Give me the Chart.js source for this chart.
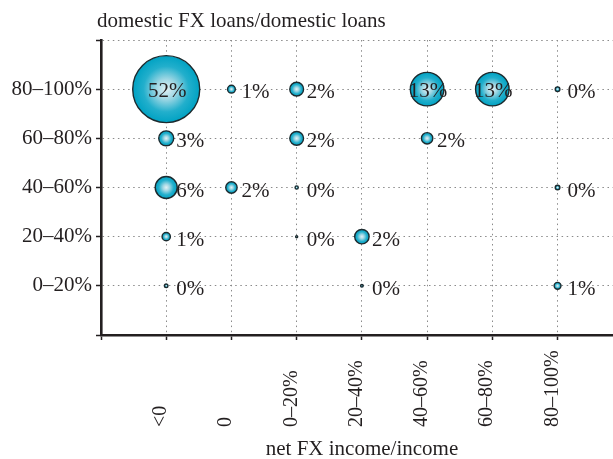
<!DOCTYPE html>
<html>
<head>
<meta charset="utf-8">
<script src="https://cdn.jsdelivr.net/npm/chart.js@4.4.1/dist/chart.umd.min.js"></script>
<style>
  body { margin: 0; background: #fff; }
  #wrap { width: 613px; height: 459px; }
</style>
</head>
<body>
<div id="wrap"><canvas id="fxChart" width="613" height="459"></canvas></div>
<script>
// categories
const xLabels = ['<0', '0', '0–20%', '20–40%', '40–60%', '60–80%', '80–100%'];
const yLabels = ['0–20%', '20–40%', '40–60%', '60–80%', '80–100%'];

// bubbles: column index, row index (1-based), share of banks in %
const xIdx   = [1,   2,   3,   5,  6,  7,    1,   3,   5,   1,   2,   3,    7,    1,   3,    4,   1,    4,    7];
const yIdx   = [5,   5,   5,   5,  5,  5,    4,   4,   4,   3,   3,   3,    3,    2,   2,    2,   1,    1,    1];
const shares = [52, 0.7, 2.2, 13, 13, 0.25, 2.6, 2.2, 1.5, 5.6, 1.5, 0.12, 0.25, 0.8, 0.05, 2.4, 0.15, 0.08, 0.55];

const titleY = 'domestic FX loans/domestic loans';
const titleX = 'net FX income/income';

const serif = "'Liberation Serif', 'Times New Roman', serif";
const ink = '#231f20';
const maxR = 33.5; // pixel radius of the biggest bubble (area ~ share)

const points = shares.map((v, i) => ({
    x: xIdx[i],
    y: yIdx[i],
    r: maxR * Math.sqrt(v / shares[0]),
    v: v
}));

function bubbleFill(context) {
    const chart = context.chart;
    const p = context.raw;
    if (!chart.chartArea || !p) return '#1aa9c6';
    const cx = chart.scales.x.getPixelForValue(p.x);
    const cy = chart.scales.y.getPixelForValue(p.y);
    const g = chart.ctx.createRadialGradient(cx, cy, 0, cx, cy, Math.max(p.r, 1));
    g.addColorStop(0, '#e2f1f5');
    g.addColorStop(0.3, '#9fd7e4');
    g.addColorStop(0.68, '#22afcc');
    g.addColorStop(1, '#00a2c3');
    return g;
}

// titles, rotated x labels and value labels
const textPlugin = {
    id: 'texts',
    afterDatasetsDraw(chart) {
        const ctx = chart.ctx;
        const xs = chart.scales.x, ys = chart.scales.y;
        ctx.save();
        ctx.fillStyle = ink;
        ctx.font = '21px ' + serif;
        ctx.textBaseline = 'alphabetic';
        points.forEach(p => {
            const px = xs.getPixelForValue(p.x);
            const py = ys.getPixelForValue(p.y);
            const txt = Math.round(p.v) + '%';
            if (p.v >= 10) {
                ctx.textAlign = 'center';
                ctx.fillText(txt, px + 1, py + 8);
            } else {
                ctx.textAlign = 'left';
                ctx.fillText(txt, px + 10, py + 9);
            }
        });
        ctx.restore();
    },
    afterDraw(chart) {
        const ctx = chart.ctx;
        const xs = chart.scales.x;
        ctx.save();
        ctx.fillStyle = ink;

        ctx.font = '21px ' + serif;
        ctx.textAlign = 'left';
        ctx.textBaseline = 'alphabetic';
        ctx.fillText(titleY, 97, 27);

        ctx.font = '20px ' + serif;
        ctx.textBaseline = 'alphabetic';
        xLabels.forEach((lab, i) => {
            const px = xs.getPixelForValue(i + 1);
            ctx.save();
            ctx.translate(px, 427);
            ctx.rotate(-Math.PI / 2);
            ctx.fillText(lab, 0, 0);
            ctx.restore();
        });

        ctx.font = '21px ' + serif;
        ctx.textAlign = 'center';
        ctx.textBaseline = 'alphabetic';
        ctx.fillText(titleX, 362, 455);
        ctx.restore();
    }
};

const ctx = document.getElementById('fxChart').getContext('2d');
const fxChart = new Chart(ctx, {
    type: 'bubble',
    data: {
        datasets: [{
            data: points,
            backgroundColor: bubbleFill,
            borderColor: '#1c2a2e',
            borderWidth: 1.4
        }]
    },
    options: {
        responsive: false,
        animation: false,
        events: [],
        layout: { padding: { top: 40, right: 0, left: 0, bottom: 0 }, autoPadding: false },
        plugins: {
            legend: { display: false },
            tooltip: { enabled: false }
        },
        scales: {
            x: {
                type: 'linear',
                min: 0,
                max: 7.85,
                afterFit: s => { s.height = 124; s.paddingLeft = 0; s.paddingRight = 0; },
                ticks: {
                    display: false,
                    stepSize: 1,
                    includeBounds: false
                },
                grid: {
                    color: '#8a8a8a',
                    lineWidth: 1,
                    tickLength: 5,
                    tickColor: ink,
                    tickWidth: 1.5,
                    tickBorderDash: []
                },
                border: { color: ink, width: 2.6, dash: [1.5, 3.6] }
            },
            y: {
                type: 'linear',
                min: 0,
                max: 6,
                afterFit: s => { s.width = 101; s.paddingTop = 0; s.paddingBottom = 0; },
                ticks: {
                    stepSize: 1,
                    padding: 4,
                    color: ink,
                    font: { family: serif, size: 21 },
                    callback: v => yLabels[v - 1] || ''
                },
                grid: {
                    color: '#8a8a8a',
                    lineWidth: 1,
                    tickLength: 5,
                    tickColor: ink,
                    tickWidth: 1.5,
                    tickBorderDash: []
                },
                border: { color: ink, width: 2.6, dash: [1.5, 3.6] }
            }
        }
    },
    plugins: [textPlugin]
});
</script>
</body>
</html>
